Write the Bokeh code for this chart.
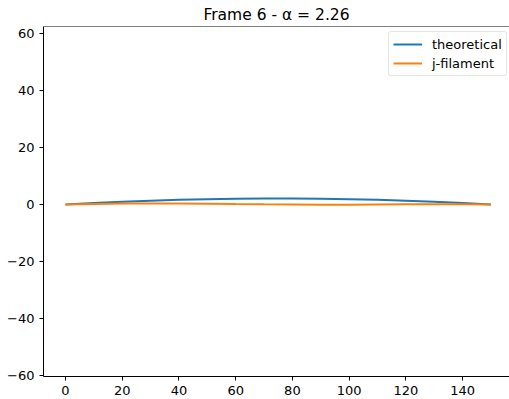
from bokeh.plotting import figure
from bokeh.models import Range1d, FixedTicker, Legend, LegendItem, Span
from bokeh.embed import file_html
from bokeh.resources import INLINE

x_vals = [0, 10, 20, 30, 40, 50, 60, 70, 80, 90, 100, 110, 120, 130, 140, 150]
theoretical = [0.0, 0.52, 0.96, 1.34, 1.64, 1.87, 2.02, 2.09, 2.09, 2.02, 1.87, 1.64, 1.34, 0.96, 0.52, 0.0]
j_filament = [0.0, 0.2, 0.32, 0.38, 0.38, 0.3, 0.15, 0.05, 0.0, -0.05, -0.05, 0.0, 0.05, 0.1, 0.1, 0.0]
x_ticks = [0, 20, 40, 60, 80, 100, 120, 140]
y_ticks = [-60, -40, -20, 0, 20, 40, 60]
title_text = "Frame 6 - \u03b1 = 2.26"

FONT = "DejaVu Sans"
Y_TOP = 62.45

p = figure(frame_width=466, frame_height=350, output_backend="svg", toolbar_location=None,
           x_range=Range1d(-7.75, 156.55), y_range=Range1d(-60.35, Y_TOP),
           title=title_text, min_border_left=43, min_border_right=0,
           min_border_top=0, min_border_bottom=0)
p.title.text_font = FONT
p.title.text_font_size = "15.5px"
p.title.text_font_style = "normal"
p.title.text_color = "black"
p.title.align = "center"
p.title.standoff = 6

p.grid.visible = False
p.outline_line_color = None
p.add_layout(Span(location=Y_TOP, dimension="width", line_color="black", line_width=1))

for ax in (p.xaxis[0], p.yaxis[0]):
    ax.major_label_text_font = FONT
    ax.major_label_text_font_size = "13px"
    ax.major_label_text_color = "black"
    ax.axis_line_color = "black"
    ax.major_tick_line_color = "black"
    ax.major_tick_out = 4
    ax.major_tick_in = 0
    ax.minor_tick_out = 0
    ax.minor_tick_in = 0
    ax.major_label_standoff = 5

p.xaxis[0].ticker = FixedTicker(ticks=x_ticks)
p.yaxis[0].ticker = FixedTicker(ticks=y_ticks)
p.yaxis[0].major_label_overrides = {t: (str(t).replace("-", "\u2212")) for t in y_ticks}

r1 = p.line(x_vals, theoretical, line_color="#1f77b4", line_width=2)
r2 = p.line(x_vals, j_filament, line_color="#ff7f0e", line_width=2)

legend = Legend(items=[LegendItem(label="theoretical", renderers=[r1]),
                       LegendItem(label="j-filament", renderers=[r2])],
                location=(345, 300))
legend.label_text_font = FONT
legend.label_text_font_size = "13px"
legend.label_text_color = "black"
legend.border_line_color = "#cccccc"
legend.border_line_width = 1
legend.border_radius = 3
legend.background_fill_alpha = 0.8
legend.glyph_width = 29
legend.glyph_height = 16
legend.spacing = 3
legend.padding = 4
legend.margin = 0
legend.label_standoff = 10
p.add_layout(legend)

open("out.html", "w").write(file_html(p, INLINE))
